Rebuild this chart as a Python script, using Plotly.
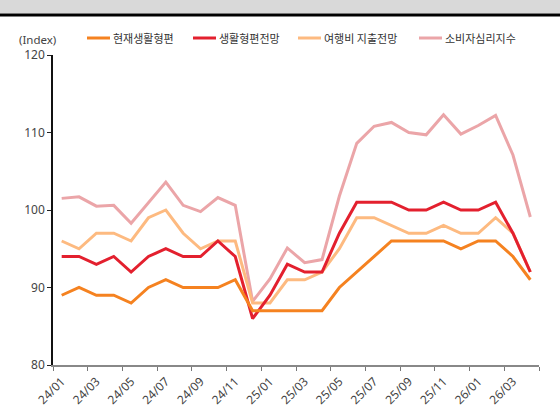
import plotly.graph_objects as go

months = ["24/01", "24/02", "24/03", "24/04", "24/05", "24/06", "24/07", "24/08", "24/09", "24/10", "24/11", "24/12",
          "25/01", "25/02", "25/03", "25/04", "25/05", "25/06", "25/07", "25/08", "25/09", "25/10", "25/11", "25/12",
          "26/01", "26/02", "26/03", "26/04"]

current_living = [89, 90, 89, 89, 88, 90, 91, 90, 90, 90, 91, 87,
                  87, 87, 87, 87, 90, 92, 94, 96, 96, 96, 96, 95,
                  96, 96, 94, 91]
living_outlook = [94, 94, 93, 94, 92, 94, 95, 94, 94, 96, 94, 86,
                  89, 93, 92, 92, 97, 101, 101, 101, 100, 100, 101, 100,
                  100, 101, 97, 92]
travel_outlook = [96, 95, 97, 97, 96, 99, 100, 97, 95, 96, 96, 88,
                  88, 91, 91, 92, 95, 99, 99, 98, 97, 97, 98, 97,
                  97, 99, 97, 92]
ccsi = [101.5, 101.7, 100.5, 100.6, 98.3, 100.9, 103.6, 100.6, 99.8, 101.6, 100.6, 88.2,
        91.1, 95.1, 93.2, 93.6, 101.8, 108.6, 110.8, 111.3, 110.0, 109.7, 112.3, 109.8,
        110.9, 112.2, 107.1, 99.1]

names = ["현재생활형편", "생활형편전망", "여행비 지출전망", "소비자심리지수"]
colors = ["#F58220", "#E3202E", "#FDBA80", "#EBA5A8"]
series = [current_living, living_outlook, travel_outlook, ccsi]

W, H = 560, 415
ML, MR, MT, MB = 53, 21, 55, 50
PW, PH = W - ML - MR, H - MT - MB

def px_x(p):
    return (p - ML) / PW

def px_y(p):
    return (H - MB - p) / PH

fig = go.Figure()
for idx in [3, 2, 1, 0]:
    fig.add_trace(go.Scatter(x=months, y=series[idx], mode="lines", name=names[idx],
                             line=dict(color=colors[idx], width=3), showlegend=False,
                             hoverinfo="skip"))

font_family = "Noto Sans, Noto Sans CJK KR, sans-serif"

fig.update_layout(
    width=W, height=H,
    margin=dict(l=ML, r=MR, t=MT, b=MB, autoexpand=False),
    paper_bgcolor="white", plot_bgcolor="white",
    showlegend=False,
    font=dict(family=font_family, size=12, color="#333333"),
    xaxis=dict(type="category", range=[-0.5, len(months) - 0.5], tickmode="linear", tick0=0, dtick=2,
               tickson="boundaries", ticklabelstandoff=3,
               tickangle=-45, ticks="outside", ticklen=4, tickcolor="#777777", automargin=False,
               showline=True, linecolor="#888888", linewidth=1.5, showgrid=False, zeroline=False,
               tickfont=dict(size=12, color="#444444")),
    yaxis=dict(range=[80, 120], dtick=10, ticks="outside", ticklen=4, tickcolor="#222222", automargin=False,
               showline=True, linecolor="#111111", linewidth=1.5, showgrid=False, zeroline=False,
               tickfont=dict(size=12, color="#444444")),
)

shapes = [
    dict(type="rect", xref="paper", yref="paper", x0=px_x(-5), x1=px_x(W + 5), y0=px_y(13.5), y1=px_y(-5),
         fillcolor="#D9D9D9", line=dict(width=0), layer="below"),
    dict(type="line", xref="paper", yref="paper", x0=px_x(-5), x1=px_x(W + 5), y0=px_y(15), y1=px_y(15),
         line=dict(color="#000000", width=3)),
]
annotations = [
    dict(text="(Index)", xref="paper", yref="paper", x=px_x(17), y=px_y(39), xanchor="left", yanchor="middle",
         showarrow=False, font=dict(size=11.5, color="#444444")),
]
legend_x = [87, 193, 298, 419]
for i in range(4):
    shapes.append(dict(type="line", xref="paper", yref="paper", x0=px_x(legend_x[i]), x1=px_x(legend_x[i] + 23),
                       y0=px_y(38), y1=px_y(38), line=dict(color=colors[i], width=3)))
    annotations.append(dict(text=names[i], xref="paper", yref="paper", x=px_x(legend_x[i] + 24), y=px_y(37.5),
                            xanchor="left", yanchor="middle", showarrow=False,
                            font=dict(size=11, color="#333333", family="Noto Sans CJK KR, sans-serif")))

fig.update_layout(shapes=shapes, annotations=annotations)
fig.write_html("out.html", config={"displayModeBar": False},
               post_script="document.body.style.margin='0';document.body.style.padding='0';document.body.style.overflow='hidden';")
